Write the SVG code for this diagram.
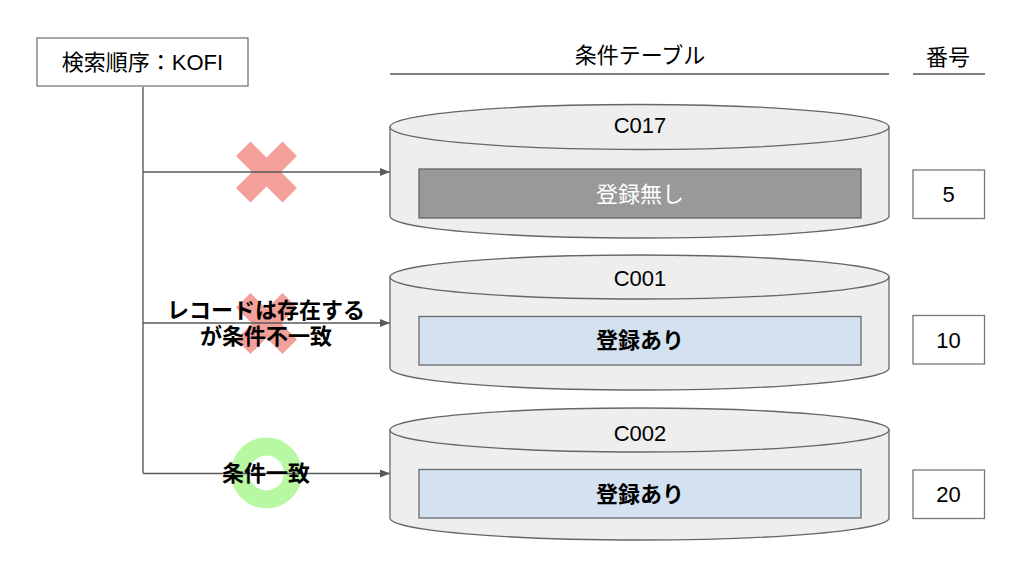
<svg xmlns="http://www.w3.org/2000/svg" width="1024" height="572" viewBox="0 0 1024 572">
<defs>
<style>
text{font-family:"Liberation Sans","Noto Sans CJK JP",sans-serif;font-size:22px;fill:#000;text-anchor:middle;dominant-baseline:central}
.b{font-weight:bold}
.w{fill:#fff}
.box{fill:#fff;stroke:#777;stroke-width:1.3}
.cyl{fill:#eeeeee;stroke:#666;stroke-width:1.3}
.rec{fill:#d4e1f1;stroke:#6a6a6a;stroke-width:1.3}
.gray{fill:#999999;stroke:#666;stroke-width:1.3}
.rule{stroke:#555;stroke-width:1.3}
.ln{stroke:#595959;stroke-width:1.4;fill:none}
.x{fill:#f4a09a}
</style>
<marker id="ah" viewBox="0 0 10 8" refX="10" refY="4" markerWidth="10" markerHeight="8" markerUnits="userSpaceOnUse" orient="auto">
<path d="M0,0 L10,4 L0,8 Z" fill="#595959"/>
</marker>
<polygon id="cross" class="x" points="-30.5,-16 -16,-30.5 0,-14.5 16,-30.5 30.5,-16 14.5,0 30.5,16 16,30.5 0,14.5 -16,30.5 -30.5,16 -14.5,0"/>
</defs>
<rect width="1024" height="572" fill="#fff"/>

<g id="headers">
<text x="640" y="55">条件テーブル</text>
<line class="rule" x1="390" y1="74" x2="889" y2="74"/>
<text x="948" y="57">番号</text>
<line class="rule" x1="913" y1="74" x2="985" y2="74"/>
</g>

<g id="marks">
<use href="#cross" x="266.5" y="172"/>
<use href="#cross" x="266.5" y="323.5"/>
<circle cx="266.5" cy="473" r="26.5" fill="none" stroke="#b8f8a2" stroke-width="18"/>
</g>

<g id="connectors">
<polyline class="ln" points="143,87 143,473"/>
<line class="ln" x1="143" y1="172" x2="390" y2="172" marker-end="url(#ah)"/>
<line class="ln" x1="143" y1="323" x2="390" y2="323" marker-end="url(#ah)"/>
<line class="ln" x1="143" y1="473.5" x2="390" y2="473.5" marker-end="url(#ah)"/>
</g>

<g id="start">
<rect class="box" x="37" y="38" width="211" height="48"/>
<text x="142.5" y="62">検索順序：KOFI</text>
</g>

<g id="labels">
<text class="b" x="266" y="310">レコードは存在する</text>
<text class="b" x="266" y="336">が条件不一致</text>
<text class="b" x="266" y="473">条件一致</text>
</g>

<g id="c017">
<path class="cyl" d="M390,127 L390,216 A249.5,22 0 0 0 889,216 L889,127 Z"/>
<ellipse class="cyl" cx="639.5" cy="127" rx="249.5" ry="22.5"/>
<text x="640" y="125">C017</text>
<rect class="gray" x="419" y="169" width="442" height="49"/>
<text class="w" x="640" y="194">登録無し</text>
</g>

<g id="c001">
<path class="cyl" d="M390,277 L390,368 A249.5,22 0 0 0 889,368 L889,277 Z"/>
<ellipse class="cyl" cx="639.5" cy="277" rx="249.5" ry="22"/>
<text x="640" y="278">C001</text>
<rect class="rec" x="419" y="316.5" width="442" height="48.5"/>
<text class="b" x="640" y="340">登録あり</text>
</g>

<g id="c002">
<path class="cyl" d="M390,430 L390,518 A249.5,22 0 0 0 889,518 L889,430 Z"/>
<ellipse class="cyl" cx="639.5" cy="430" rx="249.5" ry="22"/>
<text x="640" y="433">C002</text>
<rect class="rec" x="419" y="469.5" width="442" height="48.5"/>
<text class="b" x="640" y="494">登録あり</text>
</g>

<g id="n5">
<rect class="box" x="913" y="170" width="71.5" height="48.5"/>
<text x="948.5" y="194">5</text>
</g>
<g id="n10">
<rect class="box" x="913" y="315.5" width="71.5" height="48.5"/>
<text x="948.5" y="340">10</text>
</g>
<g id="n20">
<rect class="box" x="913" y="470" width="71.5" height="48.5"/>
<text x="948.5" y="494">20</text>
</g>
</svg>
